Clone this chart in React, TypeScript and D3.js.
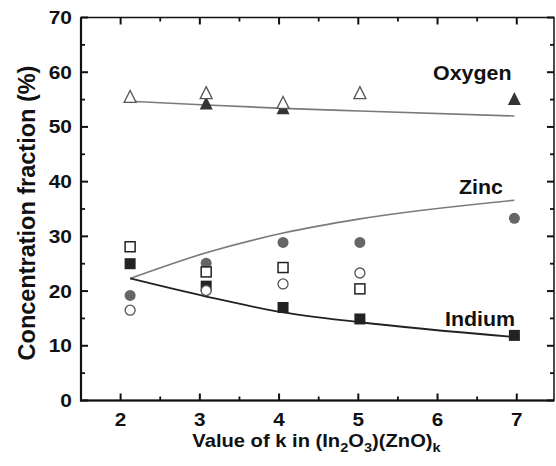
import React from "react";
import * as d3 from "d3";

const kPos = [2.12, 3.08, 4.05, 5.02, 6.97];
const oxygenOpen = [55.4, 56.1, 54.3, 56.1, null];
const oxygenFilled = [null, 54.2, 53.3, null, 55.0];
const zincFilled = [19.2, 25.1, 28.9, 28.9, 33.3];
const zincOpen = [16.5, 20.1, 21.3, 23.3, null];
const indiumFilled = [25.0, 20.9, 17.0, 14.9, 11.9];
const indiumOpen = [28.1, 23.5, 24.3, 20.4, null];

const oxygenLine = [54.7, 54.0, 53.4, 52.9, 52.0];
const zincLine = [22.3, 27.0, 30.6, 33.2, 36.6];
const indiumLine = [22.3, 19.0, 16.1, 14.3, 11.6];

const xTicks = [2, 3, 4, 5, 6, 7];
const xMinor = [2.5, 3.5, 4.5, 5.5, 6.5];
const yTicks = [0, 10, 20, 30, 40, 50, 60, 70];
const yMinor = [5, 15, 25, 35, 45, 55, 65];

const FONT = "'Liberation Sans', Arial, sans-serif";

function T({ x, y, anchor = "start", size, sx = 1.1, children }: any) {
  return (
    <text
      transform={`translate(${x},${y}) scale(${sx},1)`}
      textAnchor={anchor}
      fontFamily={FONT}
      fontWeight="bold"
      fontSize={size}
      fill="#111"
    >
      {children}
    </text>
  );
}

export default function App() {
  const x = d3.scaleLinear().domain([1.5, 7.47]).range([81, 554]);
  const y = d3.scaleLinear().domain([0, 70]).range([400.5, 17.5]);
  const L = 81, R = 554, Tp = 17.5, B = 400.5;

  const line = d3
    .line<number>()
    .x((_, i) => x(kPos[i]))
    .y((d) => y(d))
    .curve(d3.curveMonotoneX);

  const pts = (arr: (number | null)[]) =>
    arr
      .map((v, i) => (v == null ? null : { k: kPos[i], v }))
      .filter((p): p is { k: number; v: number } => p !== null);

  const tri = (cx: number, cy: number, s: number) =>
    `M${cx},${cy - s * 0.58}L${cx + s / 2},${cy + s * 0.42}L${cx - s / 2},${cy + s * 0.42}Z`;

  return (
    <svg width={556} height={466} style={{ display: "block", position: "absolute", left: 0, top: 0 }}>
      <rect width={556} height={466} fill="#fff" />
      {/* lines */}
      <path d={line(oxygenLine) || ""} fill="none" stroke="#7a7a7a" strokeWidth={1.6} />
      <path d={line(zincLine) || ""} fill="none" stroke="#7a7a7a" strokeWidth={1.6} />
      <path d={line(indiumLine) || ""} fill="none" stroke="#222" strokeWidth={1.8} />

      {/* filled markers */}
      {pts(oxygenFilled).map((p, i) => (
        <path key={"of" + i} d={tri(x(p.k), y(p.v), 13)} fill="#333" />
      ))}
      {pts(zincFilled).map((p, i) => (
        <circle key={"zf" + i} cx={x(p.k)} cy={y(p.v)} r={5.5} fill="#666" />
      ))}
      {pts(indiumFilled).map((p, i) => (
        <rect key={"if" + i} x={x(p.k) - 5.5} y={y(p.v) - 5.5} width={11} height={11} fill="#222" />
      ))}
      {/* open markers */}
      {pts(oxygenOpen).map((p, i) => (
        <path key={"oo" + i} d={tri(x(p.k), y(p.v), 12)} fill="#fff" stroke="#555" strokeWidth={1.3} />
      ))}
      {pts(zincOpen).map((p, i) => (
        <circle key={"zo" + i} cx={x(p.k)} cy={y(p.v)} r={5} fill="#fff" stroke="#555" strokeWidth={1.3} />
      ))}
      {pts(indiumOpen).map((p, i) => (
        <rect key={"io" + i} x={x(p.k) - 5} y={y(p.v) - 5} width={10} height={10} fill="#fff" stroke="#222" strokeWidth={1.5} />
      ))}

      {/* frame */}
      <rect x={L} y={Tp} width={R - L} height={B - Tp} fill="none" stroke="#111" strokeWidth={1.5} />
      <line x1={L} x2={L} y1={Tp} y2={B + 1} stroke="#111" strokeWidth={2.2} />
      <line x1={L - 1} x2={R} y1={B} y2={B} stroke="#111" strokeWidth={2.2} />

      {/* ticks */}
      {xTicks.map((t) => (
        <g key={"xt" + t}>
          <line x1={x(t)} x2={x(t)} y1={B} y2={B - 7} stroke="#111" strokeWidth={2} />
          <line x1={x(t)} x2={x(t)} y1={Tp} y2={Tp + 7} stroke="#111" strokeWidth={2} />
          <T x={x(t)} y={426} anchor="middle" size={18} sx={1.15}>{t}</T>
        </g>
      ))}
      {xMinor.map((t) => (
        <g key={"xm" + t}>
          <line x1={x(t)} x2={x(t)} y1={B} y2={B - 4} stroke="#111" strokeWidth={1.8} />
          <line x1={x(t)} x2={x(t)} y1={Tp} y2={Tp + 4} stroke="#111" strokeWidth={1.8} />
        </g>
      ))}
      {yTicks.map((t) => (
        <g key={"yt" + t}>
          <line x1={L} x2={L + 7} y1={y(t)} y2={y(t)} stroke="#111" strokeWidth={2} />
          <line x1={R} x2={R - 7} y1={y(t)} y2={y(t)} stroke="#111" strokeWidth={2} />
          <T x={72} y={y(t) + 6.5} anchor="end" size={19}>{t}</T>
        </g>
      ))}
      {yMinor.map((t) => (
        <g key={"ym" + t}>
          <line x1={L} x2={L + 4} y1={y(t)} y2={y(t)} stroke="#111" strokeWidth={1.8} />
          <line x1={R} x2={R - 4} y1={y(t)} y2={y(t)} stroke="#111" strokeWidth={1.8} />
        </g>
      ))}

      {/* series labels */}
      <T x={433} y={80} size={20} sx={1.07}>Oxygen</T>
      <T x={459} y={194} size={20} sx={1.07}>Zinc</T>
      <T x={445} y={326} size={20} sx={1.07}>Indium</T>

      {/* axis titles */}
      <T x={316.5} y={447} anchor="middle" size={18} sx={1.12}>
        Value of k in (In
        <tspan fontSize={13} dy={5}>2</tspan>
        <tspan dy={-5}>O</tspan>
        <tspan fontSize={13} dy={5}>3</tspan>
        <tspan dy={-5}>)(ZnO)</tspan>
        <tspan fontSize={13} dy={5}>k</tspan>
      </T>
      <text
        transform={`translate(35,${213}) scale(1.05,1) rotate(-90)`}
        textAnchor="middle"
        fontFamily={FONT}
        fontWeight="bold"
        fontSize={23.5}
        fill="#111"
      >
        Concentration fraction (%)
      </text>
    </svg>
  );
}
